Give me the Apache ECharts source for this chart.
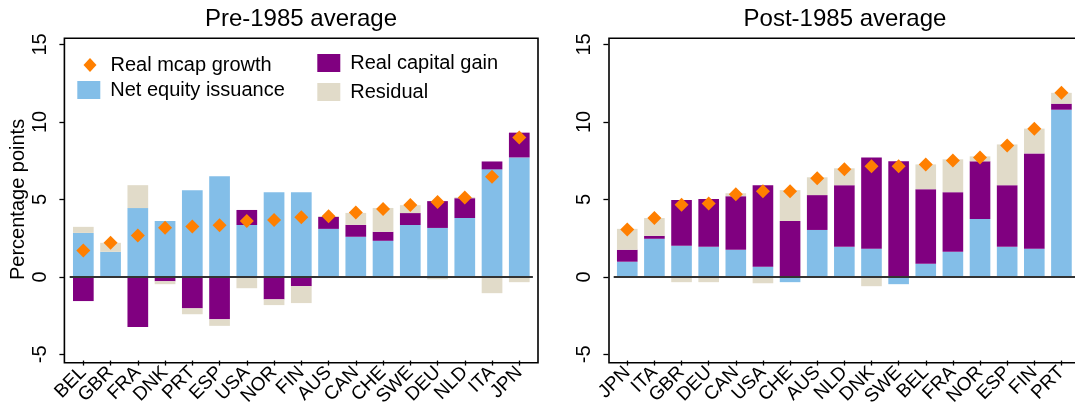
<!DOCTYPE html>
<html>
<head>
<meta charset="utf-8">
<script src="https://cdn.jsdelivr.net/npm/echarts@6/dist/echarts.min.js"></script>
<style>
html, body { margin: 0; padding: 0; background: #fff; }
#chart { width: 1075px; height: 409px; }
</style>
</head>
<body>
<div id="chart"></div>
<script>
// pre-1985 panel
const preCountries = ["BEL", "GBR", "FRA", "DNK", "PRT", "ESP", "USA", "NOR", "FIN", "AUS", "CAN", "CHE", "SWE", "DEU", "NLD", "ITA", "JPN"];
const preIssuance = [2.84, 1.62, 4.44, 3.61, 5.60, 6.50, 3.35, 5.47, 5.47, 3.10, 2.59, 2.33, 3.35, 3.16, 3.80, 6.94, 7.71];
const preCapGain = [-1.56, -0.04, -3.23, -0.28, -2.03, -2.74, 0.97, -1.45, -0.60, 0.77, 0.77, 0.58, 0.77, 1.73, 1.28, 0.51, 1.60];
const preResidual = [0.39, 0.58, 1.48, -0.19, -0.38, -0.42, -0.73, -0.37, -1.09, 0.06, 0.77, 1.54, 0.51, -0.15, 0.06, -1.05, -0.34];
const preMcap = [1.71, 2.20, 2.67, 3.18, 3.25, 3.33, 3.61, 3.68, 3.85, 3.91, 4.15, 4.38, 4.64, 4.83, 5.13, 6.47, 9.00];

// post-1985 panel
const postCountries = ["JPN", "ITA", "GBR", "DEU", "CAN", "USA", "CHE", "AUS", "NLD", "DNK", "SWE", "BEL", "FRA", "NOR", "ESP", "FIN", "PRT"];
const postIssuance = [0.98, 2.46, 2.01, 1.94, 1.75, 0.66, -0.34, 3.03, 1.94, 1.82, -0.47, 0.85, 1.62, 3.74, 1.94, 1.82, 10.79];
const postCapGain = [0.77, 0.19, 2.95, 3.08, 3.46, 5.26, 3.61, 2.25, 3.98, 5.89, 7.46, 4.81, 3.85, 3.72, 3.98, 6.15, 0.39];
const postResidual = [1.35, 1.15, -0.34, -0.34, 0.19, -0.41, 1.99, 1.15, 1.09, -0.60, 0, 1.60, 2.12, 0.32, 2.63, 1.60, 0.70];
const postMcap = [3.06, 3.80, 4.66, 4.74, 5.34, 5.53, 5.53, 6.37, 6.94, 7.14, 7.14, 7.26, 7.52, 7.71, 8.48, 9.57, 11.88];

const yTicks = [-5, 0, 5, 10, 15];

const BLUE = "#83bee8";
const PURPLE = "#800080";
const BEIGE = "#e1dbc9";
const ORANGE = "#ff7f00";
const FONT = "Liberation Sans, Arial, sans-serif";

var chart = echarts.init(document.getElementById("chart"));

function xAxisFor(idx, cats) {
    return {
        type: "category",
        gridIndex: idx,
        data: cats,
        position: "bottom",
        axisLine: { show: false, onZero: false },
        axisTick: { show: true, alignWithLabel: true, length: 5, lineStyle: { color: "#000", width: 1.3 } },
        axisLabel: { interval: 0, rotate: 45, margin: 9, fontSize: 19, color: "#000", fontFamily: FONT },
        splitLine: { show: false }
    };
}

function yAxisFor(idx, name) {
    return {
        type: "value",
        gridIndex: idx,
        min: -5.4,
        max: 15.4,
        offset: 5.3,
        name: name,
        nameLocation: "middle",
        nameGap: 36,
        nameTextStyle: { fontSize: 20, color: "#000", fontFamily: FONT },
        axisLine: { show: false },
        axisTick: { show: true, length: 5, customValues: yTicks, lineStyle: { color: "#000", width: 1.3 } },
        axisLabel: { rotate: 90, margin: 14, fontSize: 20, color: "#000", fontFamily: FONT, customValues: yTicks },
        splitLine: { show: false }
    };
}

function panelSeries(idx, iss, gain, res, mcap) {
    const base = { type: "bar", stack: "p" + idx, xAxisIndex: idx, yAxisIndex: idx, barWidth: "76%", silent: true };
    return [
        Object.assign({}, base, { name: "Net equity issuance", data: iss, itemStyle: { color: BLUE } }),
        Object.assign({}, base, { name: "Real capital gain", data: gain, itemStyle: { color: PURPLE } }),
        Object.assign({}, base, { name: "Residual", data: res, itemStyle: { color: BEIGE } }),
        {
            type: "scatter",
            name: "Real mcap growth",
            xAxisIndex: idx,
            yAxisIndex: idx,
            data: mcap,
            symbol: "diamond",
            symbolSize: 14,
            itemStyle: { color: ORANGE, opacity: 1 },
            z: 5,
            silent: true,
            markLine: {
                silent: true,
                symbol: "none",
                label: { show: false },
                lineStyle: { color: "#333", width: 2, type: "solid" },
                data: [{ yAxis: 0 }]
            }
        }
    ];
}

const legendText = { fontSize: 20, color: "#000", fontFamily: FONT, padding: [0, 0, 0, 5] };

chart.setOption({
    animation: false,
    backgroundColor: "#fff",
    title: [
        { text: "Pre-1985 average", left: 301, top: 7, textAlign: "center", padding: 0,
          textStyle: { fontSize: 24, fontWeight: "normal", color: "#000", fontFamily: FONT } },
        { text: "Post-1985 average", left: 845, top: 7, textAlign: "center", padding: 0,
          textStyle: { fontSize: 24, fontWeight: "normal", color: "#000", fontFamily: FONT } }
    ],
    legend: [
        {
            data: [{ name: "Real mcap growth", icon: "diamond" }],
            left: 83.5, top: 55, padding: 0,
            itemWidth: 13, itemHeight: 14,
            textStyle: { fontSize: 20, color: "#000", fontFamily: FONT, padding: [0, 0, 0, 9] },
            selectedMode: false
        },
        {
            data: [{ name: "Net equity issuance", icon: "rect" }],
            left: 77.3, top: 80, padding: 0,
            itemWidth: 23, itemHeight: 18,
            textStyle: legendText,
            selectedMode: false
        },
        {
            data: [{ name: "Real capital gain", icon: "rect" }, { name: "Residual", icon: "rect" }],
            orient: "vertical",
            left: 317.3, top: 53, padding: 0,
            itemWidth: 23, itemHeight: 18, itemGap: 9,
            textStyle: legendText,
            selectedMode: false
        }
    ],
    grid: [
        { left: 69.7, top: 38.3, width: 463.2, height: 324.4 },
        { left: 613.7, top: 38.3, width: 463.5, height: 324.4 }
    ],
    xAxis: [xAxisFor(0, preCountries), xAxisFor(1, postCountries)],
    yAxis: [yAxisFor(0, "Percentage points"), yAxisFor(1, "")],
    series: panelSeries(0, preIssuance, preCapGain, preResidual, preMcap)
        .concat(panelSeries(1, postIssuance, postCapGain, postResidual, postMcap)),
    graphic: [
        { type: "rect", silent: true, z: 100, shape: { x: 64.4, y: 38.3, width: 473.6, height: 324.4 },
          style: { fill: "none", stroke: "#000", lineWidth: 1.6 } },
        { type: "rect", silent: true, z: 100, shape: { x: 609, y: 38.3, width: 480, height: 324.4 },
          style: { fill: "none", stroke: "#000", lineWidth: 1.6 } }
    ]
});
</script>
</body>
</html>
